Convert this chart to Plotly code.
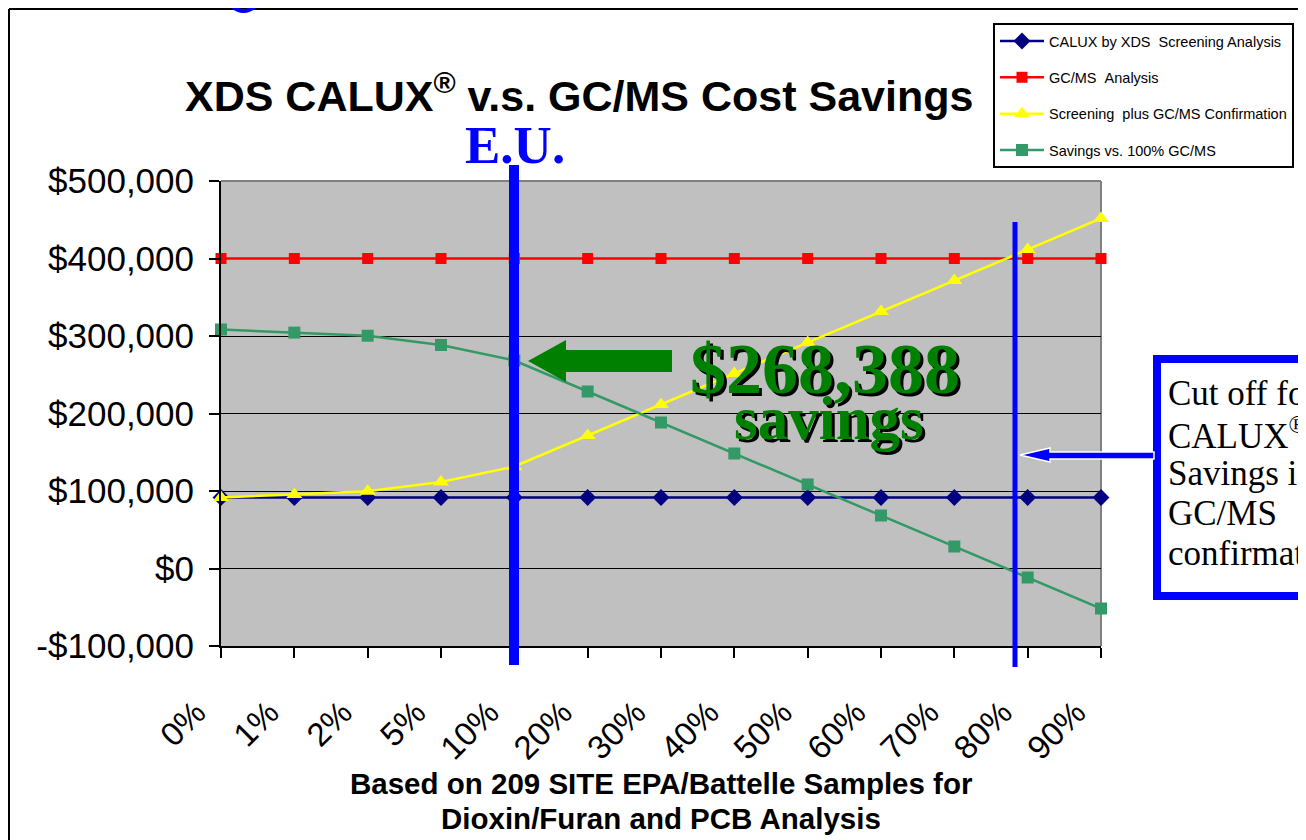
import plotly.graph_objects as go

# ---------------- data ----------------
categories = ["0%", "1%", "2%", "5%", "10%", "20%", "30%", "40%", "50%", "60%", "70%", "80%", "90%"]
calux_xds = [91612, 91612, 91612, 91612, 91612, 91612, 91612, 91612, 91612, 91612, 91612, 91612, 91612]
gcms_analysis = [400000, 400000, 400000, 400000, 400000, 400000, 400000, 400000, 400000, 400000, 400000, 400000, 400000]
screening_plus = [91612, 95612, 99612, 111612, 131612, 171612, 211612, 251612, 291612, 331612, 371612, 411612, 451612]
savings = [308388, 304388, 300388, 288388, 268388, 228388, 188388, 148388, 108388, 68388, 28388, -11612, -51612]

y_tickvals = [-100000, 0, 100000, 200000, 300000, 400000, 500000]
y_ticktext = ["-$100,000", "$0", "$100,000", "$200,000", "$300,000", "$400,000", "$500,000"]

# ---------------- geometry helpers (page pixel -> paper) ----------------
OFF = 8                       # page body margin
W, H = 1306 - OFF, 840 - OFF  # figure size
L, R, T, B = 221, 1101, 181, 646  # plot area in page pixels


def px(x):
    return (x - L) / (R - L)


def py(y):
    return (B - y) / (B - T)


SANS = "Arial, Liberation Sans, sans-serif"
SERIF = "Times New Roman, Liberation Serif, serif"

fig = go.Figure()

fig.add_trace(go.Scatter(
    x=categories, y=calux_xds, name="CALUX by XDS\u00a0\u00a0Screening Analysis",
    mode="lines+markers", line=dict(color="#000080", width=2.5),
    marker=dict(symbol="diamond", size=13, color="#000080"),
    legendgroup="a", cliponaxis=False))
fig.add_trace(go.Scatter(
    x=categories, y=gcms_analysis, name="GC/MS\u00a0\u00a0Analysis",
    mode="lines+markers", line=dict(color="#ff0000", width=2.5),
    marker=dict(symbol="square", size=11, color="#ff0000"),
    legendgroup="b", cliponaxis=False))
fig.add_trace(go.Scatter(
    x=categories, y=screening_plus, name="Screening\u00a0\u00a0plus GC/MS Confirmation",
    mode="lines+markers", line=dict(color="#ffff00", width=2.5),
    marker=dict(symbol="triangle-up", size=14, color="#ffff00"),
    legendgroup="c", cliponaxis=False))
fig.add_trace(go.Scatter(
    x=categories, y=savings, name="Savings vs. 100% GC/MS",
    mode="lines+markers", line=dict(color="#339966", width=2.5),
    marker=dict(symbol="square", size=12, color="#339966"),
    legendgroup="d", cliponaxis=False))

shapes = []
# outer figure frame (left + top)
shapes.append(dict(type="line", xref="paper", yref="paper", x0=px(9), x1=px(9), y0=py(9), y1=py(840),
                   line=dict(color="black", width=2), layer="below"))
shapes.append(dict(type="line", xref="paper", yref="paper", x0=px(9), x1=px(1306), y0=py(9), y1=py(9),
                   line=dict(color="black", width=2), layer="below"))
# gray top/right plot border
shapes.append(dict(type="line", xref="paper", yref="paper", x0=0, x1=1, y0=1, y1=1,
                   line=dict(color="#808080", width=2), layer="below"))
shapes.append(dict(type="line", xref="paper", yref="paper", x0=1, x1=1, y0=0, y1=1,
                   line=dict(color="#808080", width=2), layer="below"))
# blue arc fragment at top
shapes.append(dict(type="circle", xref="paper", yref="paper", x0=px(229), x1=px(258), y0=py(-16), y1=py(11),
                   line=dict(color="#0000ff", width=4)))
# E.U. vertical line
shapes.append(dict(type="line", xref="paper", yref="paper", x0=px(514), x1=px(514), y0=py(165), y1=py(665),
                   line=dict(color="#0000ff", width=10)))
# cutoff vertical line
shapes.append(dict(type="line", xref="paper", yref="paper", x0=px(1015), x1=px(1015), y0=py(222), y1=py(667),
                   line=dict(color="#0000ff", width=5)))


def path(points, close=True):
    s = "M " + " L ".join(f"{px(a)},{py(b)}" for a, b in points)
    return s + (" Z" if close else "")


# green arrow
shapes.append(dict(type="path", xref="paper", yref="paper",
                   path=path([(528, 361), (566, 340), (566, 350), (672, 350), (672, 372), (566, 372), (566, 382)]),
                   fillcolor="#008000", line=dict(color="#008000", width=0)))
# callout box: white fill + blue border on the visible sides
shapes.append(dict(type="rect", xref="paper", yref="paper", x0=px(1157), x1=px(1310), y0=py(359), y1=py(596),
                   fillcolor="white", line=dict(width=0)))
shapes.append(dict(type="path", xref="paper", yref="paper",
                   path=path([(1310, 359), (1157, 359), (1157, 596), (1310, 596)], close=False),
                   line=dict(color="#0000ff", width=8)))
# blue small arrow
shapes.append(dict(type="path", xref="paper", yref="paper",
                   path=path([(1020, 455), (1050, 448), (1050, 452), (1154, 452), (1154, 459), (1050, 459), (1050, 462)]),
                   fillcolor="#0000ff", line=dict(color="white", width=1.5)))

ann = []
ann.append(dict(text="<b>XDS CALUX<sup>®</sup> v.s. GC/MS Cost Savings</b>", x=px(579), y=py(93),
                font=dict(family=SANS, size=43, color="black")))
ann.append(dict(text="<b>E.U.</b>", x=px(515), y=py(145),
                font=dict(family=SERIF, size=53, color="#0000ff")))
# big savings text with shadow
for dx, col in ((3, "black"), (0, "#008000")):
    ann.append(dict(text="<b>$268,388</b>", x=px(825 + dx), y=py(369 + dx),
                    font=dict(family=SERIF, size=72, color=col)))
    ann.append(dict(text="<b>savings</b>", x=px(829 + dx), y=py(418 + dx),
                    font=dict(family=SERIF, size=61, color=col)))
# callout text lines
callout_lines = ["Cut off for", "CALUX<sup>®</sup>", "Savings is", "GC/MS", "confirmation"]
for i, t in enumerate(callout_lines):
    ann.append(dict(text=t, x=px(1166), y=py(393 + 40 * i), xanchor="left",
                    font=dict(family=SERIF, size=35, color="black")))
# x-axis title lines
ann.append(dict(text="<b>Based on 209 SITE EPA/Battelle Samples for</b>", x=px(661), y=py(783),
                font=dict(family=SANS, size=29.5, color="black")))
ann.append(dict(text="<b>Dioxin/Furan and PCB Analysis</b>", x=px(661), y=py(818),
                font=dict(family=SANS, size=29.5, color="black")))
for a in ann:
    a.update(xref="paper", yref="paper", showarrow=False)
    a.setdefault("xanchor", "center")
    a.setdefault("yanchor", "middle")

fig.update_layout(
    width=W, height=H,
    margin=dict(l=L - OFF, r=W - (R - OFF), t=T - OFF, b=H - (B - OFF), pad=0, autoexpand=False),
    paper_bgcolor="white", plot_bgcolor="#c0c0c0",
    shapes=shapes, annotations=ann,
    showlegend=True,
    legend=dict(x=px(993), y=py(23), xanchor="left", yanchor="top",
                bgcolor="white", bordercolor="black", borderwidth=2,
                font=dict(family=SANS, size=14.5, color="black"),
                tracegroupgap=14.5, traceorder="grouped", itemwidth=44),
    xaxis=dict(type="category", range=[0, 12], showgrid=False, zeroline=False,
               showline=True, linecolor="black", linewidth=2,
               ticks="outside", ticklen=10, tickwidth=2, tickcolor="black",
               tickangle=-45, ticklabelstandoff=22, ticklabelshift=-25,
               tickfont=dict(family=SANS, size=33, color="black")),
    yaxis=dict(range=[-100000, 500000], tickvals=y_tickvals, ticktext=y_ticktext,
               showgrid=True, gridcolor="black", gridwidth=1, zeroline=False,
               showline=True, linecolor="black", linewidth=2,
               ticks="outside", ticklen=10, tickwidth=2, tickcolor="black",
               ticklabelstandoff=8,
               tickfont=dict(family=SANS, size=35, color="black")),
)

fig.write_html("out.html")
